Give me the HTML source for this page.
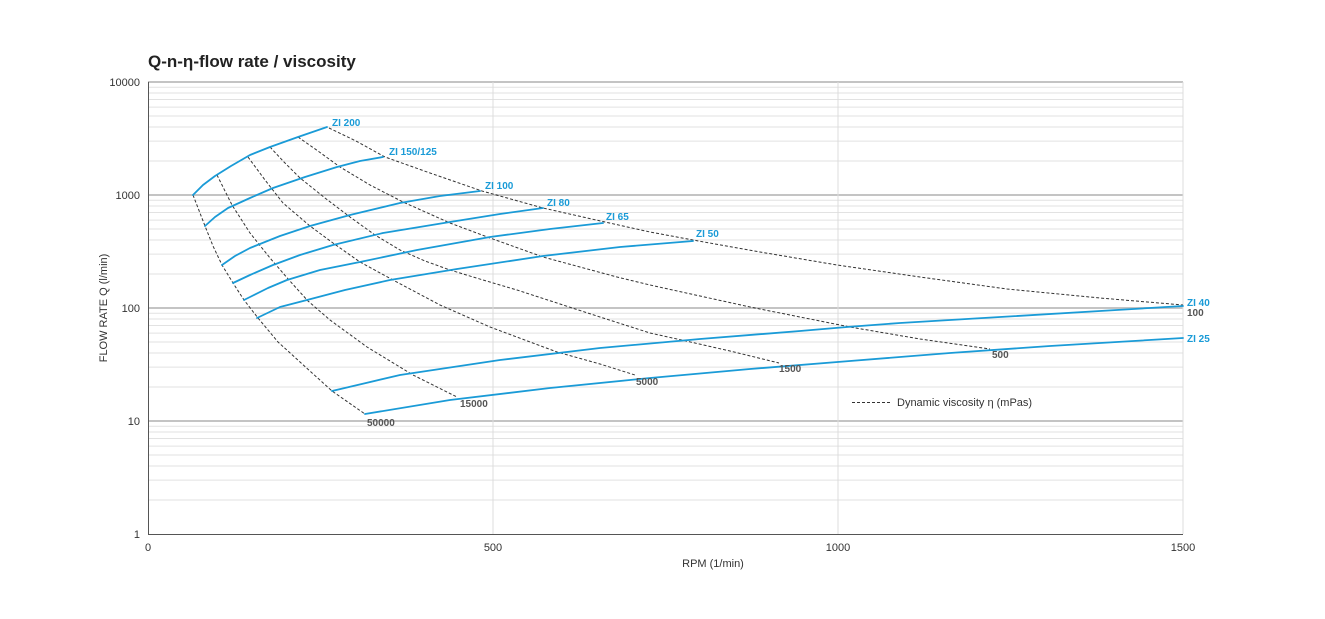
<!DOCTYPE html>
<html><head><meta charset="utf-8"><style>
body{margin:0;background:#fff;}
svg{display:block;font-family:"Liberation Sans",Arial,sans-serif;}
</style></head><body>
<svg width="1325" height="619" viewBox="0 0 1325 619">
<text x="148" y="67" font-size="17" font-weight="bold" fill="#222">Q-n-η-flow rate / viscosity</text>
<path stroke="#e2e2e2" stroke-width="1" fill="none" d="
M148 500H1183M148 480.1H1183M148 466H1183M148 455H1183M148 446.1H1183M148 438.5H1183M148 432H1183M148 426.2H1183
M148 387H1183M148 367.1H1183M148 353H1183M148 342H1183M148 333.1H1183M148 325.5H1183M148 319H1183M148 313.2H1183
M148 274H1183M148 254.1H1183M148 240H1183M148 229H1183M148 220.1H1183M148 212.5H1183M148 206H1183M148 200.2H1183
M148 161H1183M148 141.1H1183M148 127H1183M148 116H1183M148 107.1H1183M148 99.5H1183M148 93H1183M148 87.2H1183"/>
<g stroke="#c4c4c4" stroke-width="2">
<line x1="148" y1="82" x2="1183" y2="82"/><line x1="148" y1="195" x2="1183" y2="195"/>
<line x1="148" y1="308" x2="1183" y2="308"/><line x1="148" y1="421" x2="1183" y2="421"/>
</g>
<g stroke="#dcdcdc"><line x1="493" y1="82" x2="493" y2="534"/><line x1="838" y1="82" x2="838" y2="534"/><line x1="1183" y1="82" x2="1183" y2="534"/></g>
<g stroke="#555" stroke-width="1"><line x1="148.5" y1="82" x2="148.5" y2="534"/><line x1="148" y1="534.5" x2="1183" y2="534.5"/></g>
<g font-size="11" fill="#333" text-anchor="end">
<text x="140" y="86">10000</text><text x="140" y="199">1000</text><text x="140" y="312">100</text><text x="140" y="425">10</text><text x="140" y="538">1</text>
</g>
<g font-size="11" fill="#333" text-anchor="middle">
<text x="148" y="551">0</text><text x="493" y="551">500</text><text x="838" y="551">1000</text><text x="1183" y="551">1500</text>
<text x="713" y="567">RPM (1/min)</text>
</g>
<text transform="translate(107,308) rotate(-90)" font-size="11" fill="#333" text-anchor="middle">FLOW RATE Q (l/min)</text>
<g fill="none" stroke="#333" stroke-width="1" stroke-dasharray="3,2" stroke-linejoin="round">
<polyline points="329,128 356,141 385,157 430,173 482,191 543,208 605,222 650,232 693,240 760,252 837,265 920,277 1007,289 1100,298 1183,305"/>
<polyline points="298,137 318,151 340,167 370,185 403,202 450,223 490,238 543,257 580,267 617,277 650,285 700,296 750,307 800,317 850,327 920,339 990,349"/>
<polyline points="270,147 284,162 300,178 325,198 350,217 375,235 400,250 425,261 450,270 483,280 517,290 560,304 600,317 650,333 686,341 730,351 779,363"/>
<polyline points="248,157 265,180 283,203 310,226 333,243 360,262 393,280 440,305 490,327 557,352 600,364 635,375"/>
<polyline points="217,175 232,205 250,233 270,258 289,280 308,301 330,320 367,347 413,375 457,397"/>
<polyline points="193,195 205,226 213,246 222,265 233,283 244,300 258,318 278,342 300,362 332,391 365,414"/>
<line x1="852" y1="402.5" x2="890" y2="402.5"/>
</g>
<g fill="none" stroke="#1a9bd7" stroke-width="1.8" stroke-linecap="round" stroke-linejoin="round">
<polyline points="193,195 203,185 215,176 231,166 250,155 270,147 298,137 327,127"/>
<polyline points="205,226 215,217 228,208 250,198 273,188 305,177 337,167 360,161 383,157"/>
<polyline points="222,265 235,256 250,248 280,236 310,226 350,215 400,203 440,196 480,191"/>
<polyline points="233,283 250,275 273,265 300,255 333,245 383,233 450,222 500,214 543,208"/>
<polyline points="244,300 250,297 268,288 287,280 320,270 360,262 417,250 490,237 550,229 603,223"/>
<polyline points="257,318 280,307 307,300 345,290 390,280 457,269 543,256 620,247 693,241"/>
<polyline points="332,391 400,375 500,360 600,348 700,339 800,331 847,327 900,323 1000,317 1100,311 1183,306"/>
<polyline points="365,414 450,400 550,388 650,378 750,369 850,361 950,353 1050,346 1183,338"/>
</g>
<g font-size="10" font-weight="bold" fill="#1a9bd7">
<text x="332" y="126">ZI 200</text><text x="389" y="155">ZI 150/125</text><text x="485" y="189">ZI 100</text>
<text x="547" y="206">ZI 80</text><text x="606" y="220">ZI 65</text><text x="696" y="237">ZI 50</text>
<text x="1187" y="306">ZI 40</text><text x="1187" y="342">ZI 25</text>
</g>
<g font-size="10" font-weight="bold" fill="#555">
<text x="1187" y="316">100</text><text x="992" y="358">500</text><text x="779" y="372">1500</text>
<text x="636" y="385">5000</text><text x="460" y="407">15000</text><text x="367" y="426">50000</text>
</g>
<text x="897" y="406" font-size="11" fill="#333">Dynamic viscosity η (mPas)</text>
</svg>
</body></html>
